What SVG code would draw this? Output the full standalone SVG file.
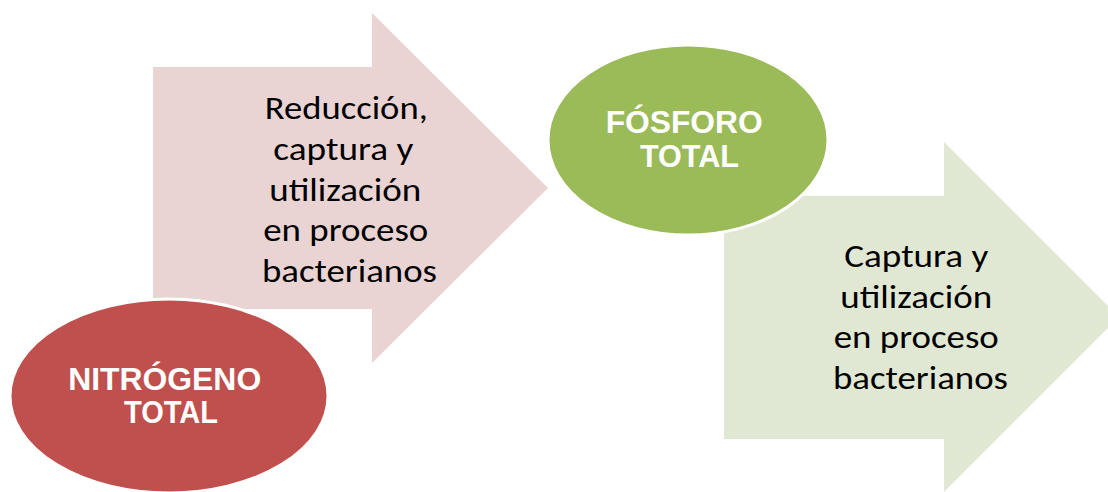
<svg xmlns="http://www.w3.org/2000/svg" width="1108" height="492" viewBox="0 0 1108 492">
  <style>
    .arrow-label { font-family: Carlito, Calibri, Lato, "Open Sans", sans-serif; font-size: 33px; fill: #000000; text-anchor: middle; }
    .node-label { font-family: "Liberation Sans", Arial, sans-serif; font-size: 31px; font-weight: bold; fill: #FFFFFF; text-anchor: middle; }
    .ellipse { stroke: #FFFFFF; stroke-width: 3; }
  </style>
  <rect x="0" y="0" width="1108" height="492" fill="#FFFFFF"/>
  <g id="connectors">
    <g id="arrow-nitrogeno">
      <polygon points="153,67 372,67 372,13 548,188 372,363 372,309 153,309" fill="#E9D4D3"/>
      <text class="arrow-label">
        <tspan x="350" y="119" textLength="163" lengthAdjust="spacingAndGlyphs">Reducción,</tspan>
        <tspan x="347" y="160" textLength="140" lengthAdjust="spacingAndGlyphs">captura y</tspan>
        <tspan x="349" y="200.5" textLength="152" lengthAdjust="spacingAndGlyphs">utilización</tspan>
        <tspan x="349.5" y="241" textLength="165" lengthAdjust="spacingAndGlyphs">en proceso</tspan>
        <tspan x="349.5" y="282" textLength="175" lengthAdjust="spacingAndGlyphs">bacterianos</tspan>
      </text>
    </g>
    <g id="arrow-fosforo">
      <polygon points="724,196 944,196 944,142 1119,317 944,492 944,439 724,439" fill="#E0E8D3"/>
      <text class="arrow-label">
        <tspan x="920" y="267" textLength="144" lengthAdjust="spacingAndGlyphs">Captura y</tspan>
        <tspan x="920" y="307.7" textLength="152" lengthAdjust="spacingAndGlyphs">utilización</tspan>
        <tspan x="920" y="348.4" textLength="165" lengthAdjust="spacingAndGlyphs">en proceso</tspan>
        <tspan x="920.5" y="389" textLength="175" lengthAdjust="spacingAndGlyphs">bacterianos</tspan>
      </text>
    </g>
  </g>
  <g id="node-fosforo">
    <ellipse class="ellipse" cx="688" cy="140" rx="140" ry="95" fill="#9BBB59"/>
    <text class="node-label">
      <tspan x="688.5" y="133" textLength="157" lengthAdjust="spacingAndGlyphs">FÓSFORO</tspan>
      <tspan x="689.5" y="167" textLength="99" lengthAdjust="spacingAndGlyphs">TOTAL</tspan>
    </text>
  </g>
  <g id="node-nitrogeno">
    <ellipse class="ellipse" cx="169" cy="396" rx="159" ry="97" fill="#C0504D"/>
    <text class="node-label">
      <tspan x="169" y="390" textLength="193" lengthAdjust="spacingAndGlyphs">NITRÓGENO</tspan>
      <tspan x="171" y="423" textLength="94" lengthAdjust="spacingAndGlyphs">TOTAL</tspan>
    </text>
  </g>
</svg>
